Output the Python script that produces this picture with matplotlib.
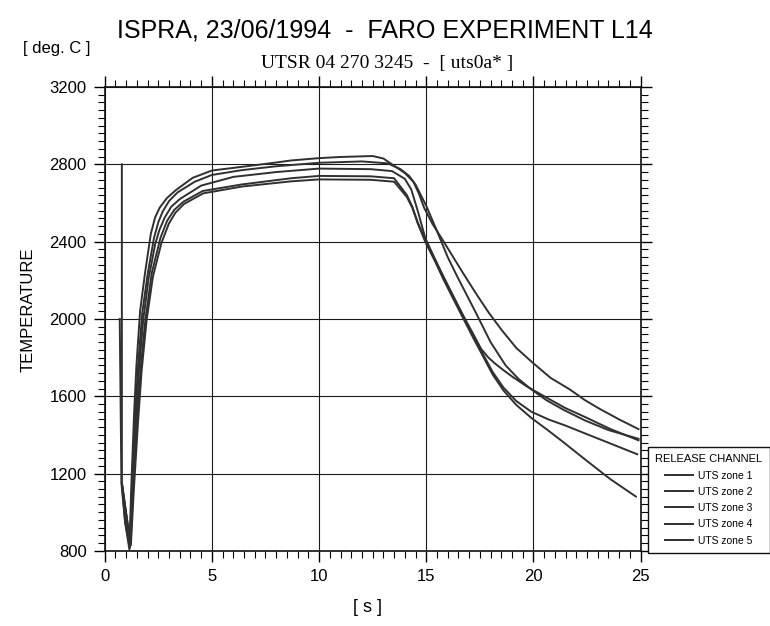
import matplotlib
matplotlib.use("Agg")
import matplotlib.pyplot as plt
from matplotlib.ticker import MultipleLocator

# ---- data ----
z1_x = [0.80, 0.80, 0.95, 1.15, 1.24, 1.37, 1.48, 1.65, 1.87, 2.15, 2.35, 2.56, 2.9, 3.3, 4.1, 5.0, 6.4, 7.9, 8.7,
        10.0, 11.0, 12.5, 13.0, 13.4, 14.0, 14.4, 14.65, 14.9, 15.3, 15.7, 16.2, 16.7, 17.3, 17.9, 18.5,
        19.2, 19.95, 20.8, 21.7, 22.4, 23.1, 24.0, 24.9]
z1_y = [2800, 1150, 950, 808, 1135, 1510, 1760, 2040, 2230, 2440, 2525, 2575, 2625, 2665, 2730, 2768, 2787, 2808, 2820,
        2832, 2838, 2843, 2830, 2800, 2755, 2710, 2650, 2575, 2490, 2420, 2330, 2240, 2135, 2035, 1945,
        1850, 1775, 1695, 1635, 1580, 1534, 1480, 1430]

z2_x = [0.70, 0.78, 0.95, 1.17, 1.26, 1.42, 1.55, 1.75, 2.0, 2.3, 2.5, 2.7, 3.0, 3.4, 4.2, 5.0, 6.4, 8.0, 10.0,
        12.0, 13.2, 13.8, 14.2, 14.5, 15.0, 15.5, 16.0, 16.42, 17.3, 18.0, 18.7, 19.3, 19.85, 20.6, 21.4,
        22.4, 23.5, 24.9]
z2_y = [2000, 1150, 950, 815, 1100, 1500, 1750, 2030, 2230, 2420, 2500, 2555, 2610, 2655, 2710, 2745, 2770, 2790, 2808,
        2815, 2805, 2775, 2740, 2695, 2585, 2455, 2320, 2225, 2035, 1880, 1760, 1690, 1640, 1580, 1530,
        1475, 1425, 1380]

z3_x = [0.80, 1.18, 1.28, 1.45, 1.6, 1.8, 2.05, 2.35, 2.55, 2.8, 3.1, 3.5, 4.5, 6.0, 8.0, 10.0, 12.4, 13.4,
        14.0, 14.3, 14.6, 14.95, 15.4, 15.8, 16.3, 16.76, 17.2, 17.56, 17.9, 18.2, 18.6, 19.03, 19.7, 20.5,
        21.47, 22.36, 23.6, 24.9]
z3_y = [1150, 820, 1100, 1480, 1740, 2000, 2210, 2385, 2460, 2525, 2580, 2620, 2690, 2735, 2760, 2778, 2775, 2765,
        2725, 2670, 2560, 2420, 2310, 2220, 2110, 2010, 1920, 1845, 1800, 1770, 1735, 1700, 1650, 1600,
        1540, 1495, 1430, 1372]

z4_x = [0.82, 1.20, 1.32, 1.5, 1.68, 1.9, 2.2, 2.6, 2.92, 3.25, 3.66, 4.57, 6.4, 8.7, 10.0, 12.4, 13.5,
        14.1, 14.35, 14.6, 14.95, 15.4, 15.8, 16.3, 16.76, 17.2, 17.56, 18.1, 18.6, 19.2, 19.9, 20.7,
        21.5, 22.4, 23.6, 24.84]
z4_y = [1140, 830, 1100, 1470, 1750, 2000, 2240, 2420, 2510, 2565, 2606, 2662, 2696, 2728, 2740, 2738, 2728,
        2640, 2580, 2500, 2410, 2310, 2215, 2105, 2005, 1910, 1835, 1725, 1645, 1575, 1520, 1480,
        1448, 1408, 1355, 1300]

z5_x = [0.82, 1.22, 1.35, 1.55, 1.72, 1.95, 2.25, 2.65, 3.0, 3.3, 3.7, 4.6, 6.4, 8.7, 10.0, 12.4, 13.5,
        14.1, 14.35, 14.6, 14.95, 15.4, 15.8, 16.3, 16.76, 17.2, 17.56, 18.1, 18.6, 19.2, 19.9, 20.7,
        21.4, 22.5, 23.6, 24.78]
z5_y = [1130, 830, 1100, 1460, 1730, 1990, 2220, 2395, 2495, 2550, 2595, 2650, 2685, 2712, 2722, 2720, 2710,
        2630, 2575, 2495, 2400, 2300, 2205, 2095, 1995, 1900, 1825, 1712, 1630, 1555, 1488, 1422,
        1362, 1265, 1170, 1081]

series_x = [z1_x, z2_x, z3_x, z4_x, z5_x]
series_y = [z1_y, z2_y, z3_y, z4_y, z5_y]
labels = ["UTS zone 1", "UTS zone 2", "UTS zone 3", "UTS zone 4", "UTS zone 5"]

x_ticks = [0, 5, 10, 15, 20, 25]
y_ticks = [800, 1200, 1600, 2000, 2400, 2800, 3200]

# ---- figure ----
plt.rcParams['font.family'] = ['Liberation Sans', 'DejaVu Sans']
fig = plt.figure(figsize=(7.70, 6.26), dpi=100)
ax = fig.add_axes([0.136, 0.120, 0.696, 0.741])

handles = []
for xs, ys, lab in zip(series_x, series_y, labels):
    h, = ax.plot(xs, ys, color='#303030', lw=1.4, label=lab)
    handles.append(h)

ax.set_xlim(0, 25)
ax.set_ylim(800, 3200)
ax.set_xticks(x_ticks)
ax.set_yticks(y_ticks)
ax.xaxis.set_minor_locator(MultipleLocator(0.5))
ax.yaxis.set_minor_locator(MultipleLocator(40))
ax.grid(True, which='major', color='#1a1a1a', lw=0.8)
ax.set_axisbelow(True)
for s in ax.spines.values():
    s.set_linewidth(1.2)
    s.set_color('#111111')
ax.tick_params(which='major', direction='out', length=8, width=1.0, labelsize=12,
               top=True, right=True, labeltop=False, labelright=False, pad=5)
ax.tick_params(which='minor', direction='out', length=5, width=0.8,
               top=True, right=True)

fig.text(0.50, 0.952, "ISPRA, 23/06/1994  -  FARO EXPERIMENT L14", ha='center', va='center',
         fontsize=18, family='Liberation Sans')
fig.text(0.503, 0.898, "UTSR 04 270 3245  -  [ uts0a* ]", ha='center', va='center',
         fontsize=14, family='Liberation Serif')
fig.text(0.073, 0.923, "[ deg. C ]", ha='center', va='center', fontsize=12)
fig.text(0.037, 0.505, "TEMPERATURE", ha='center', va='center', rotation=90, fontsize=12)
fig.text(0.477, 0.030, "[ s ]", ha='center', va='center', fontsize=13)

leg = fig.legend(handles=handles, labels=labels, title="RELEASE CHANNEL",
                 loc='upper left', bbox_to_anchor=(648/770, 1 - 447/626),
                 bbox_transform=fig.transFigure, borderaxespad=0,
                 fontsize=7.5, title_fontsize=8, handlelength=2.6,
                 handletextpad=0.5, labelspacing=0.6, borderpad=0.7,
                 fancybox=False, edgecolor='#111111', framealpha=1)
leg.get_frame().set_linewidth(1.0)

fig.savefig("out.png", dpi=100)
